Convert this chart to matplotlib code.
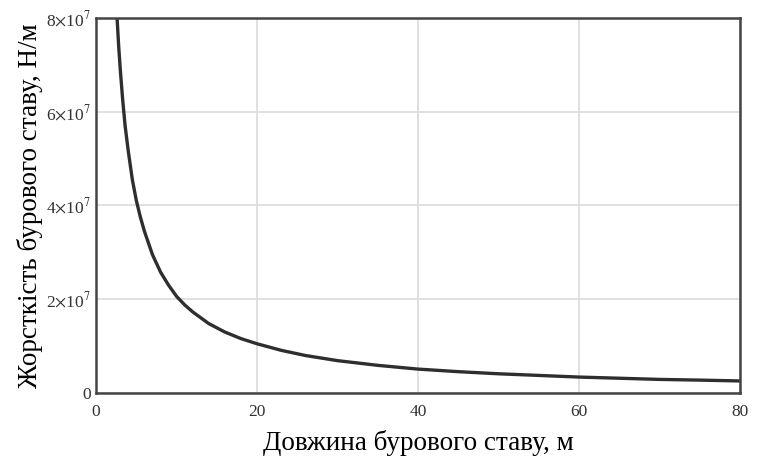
import matplotlib
matplotlib.use('Agg')
import matplotlib.pyplot as plt
from matplotlib.ticker import FuncFormatter

# довжина бурового ставу, м  /  жорсткість, Н/м
length_m = [2.6, 2.8, 3.0, 3.3, 3.6, 4.0, 4.5, 5.0, 5.5, 6.0, 7.0, 8.0, 9.0,
            10, 11, 12, 14, 16, 18, 20, 23, 26, 30, 35, 40, 45, 50, 55, 60,
            65, 70, 75, 80]
stiffness = [8.0e7, 7.4e7, 6.9e7, 6.25e7, 5.7e7, 5.15e7, 4.55e7, 4.1e7,
             3.75e7, 3.45e7, 2.95e7, 2.58e7, 2.3e7, 2.06e7, 1.88e7, 1.73e7,
             1.48e7, 1.3e7, 1.16e7, 1.05e7, 0.91e7, 0.80e7, 0.69e7, 0.59e7,
             0.51e7, 0.455e7, 0.41e7, 0.375e7, 0.34e7, 0.315e7, 0.29e7,
             0.275e7, 0.257e7]
x_ticks = [0, 20, 40, 60, 80]
y_ticks = [0, 2e7, 4e7, 6e7, 8e7]

plt.rcParams['font.family'] = ['Liberation Serif', 'DejaVu Serif']
plt.rcParams['mathtext.fontset'] = 'stix'

fig = plt.figure(figsize=(7.57, 4.61), dpi=100)
ax = fig.add_axes([0.127, 0.1475, 0.8505, 0.8135])

ax.plot(length_m, stiffness, color='#2e2e2e', lw=2.4, solid_capstyle='butt')

ax.set_xlim(0, 80)
ax.set_ylim(0, 8e7)
ax.set_xticks(x_ticks)
ax.set_yticks(y_ticks)


def y_fmt(v, pos):
    if v == 0:
        return '0'
    return '%d$\\times$10$^{7}$' % round(v / 1e7)


ax.yaxis.set_major_formatter(FuncFormatter(y_fmt))
ax.tick_params(length=0, labelsize=12.5, colors='#333333', pad=4)
ax.tick_params(axis='x', pad=8)
ax.grid(True, color='#dddddd', lw=1.3)
ax.set_axisbelow(True)
for s in ax.spines.values():
    s.set_color('#444444')
    s.set_linewidth(1.8)

ax.set_xlabel('Довжина бурового ставу, м', fontsize=19.5, labelpad=7)
ax.set_ylabel('Жорсткість бурового ставу, Н/м', fontsize=19.5, labelpad=2)

fig.savefig('out.png', dpi=100)
